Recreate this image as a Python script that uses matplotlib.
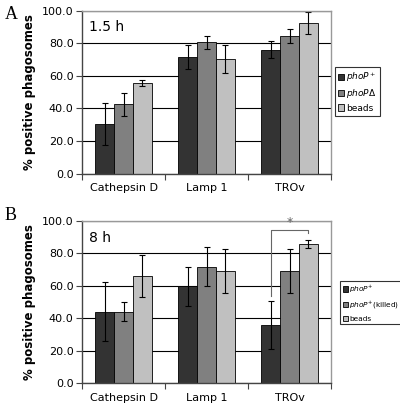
import numpy as np
import matplotlib.pyplot as plt

plt.rcParams['font.family'] = 'DejaVu Sans'
plt.rcParams['mathtext.fontset'] = 'custom'
plt.rcParams['mathtext.rm'] = 'DejaVu Sans'
plt.rcParams['mathtext.it'] = 'DejaVu Sans:italic'

categories = ["Cathepsin D", "Lamp 1", "TROv"]

# panel A, 1.5 h
a_labels = [r"$\mathit{phoP}^{+}$", r"$\mathit{phoP\Delta}$", "beads"]
a_vals = [[30.5, 71.5, 76.0], [42.5, 80.5, 84.5], [55.5, 70.5, 92.3]]
a_err = [[13.0, 7.3, 5.2], [7.0, 3.8, 4.2], [1.8, 8.5, 6.8]]

# panel B, 8 h
b_labels = [r"$\mathit{phoP}^{+}$", r"$\mathit{phoP}^{+}$(killed)", "beads"]
b_vals = [[44.0, 59.7, 35.8], [44.0, 71.8, 69.3], [66.0, 69.1, 85.7]]
b_err = [[18.3, 12.2, 14.6], [6.0, 12.2, 13.5], [13.0, 13.5, 2.6]]

colors = ["#333333", "#808080", "#c0c0c0"]
width = 0.225

fig = plt.figure(figsize=(4.0, 4.07), dpi=100)
axA = fig.add_axes([0.205, 0.5735, 0.6225, 0.4005])
axB = fig.add_axes([0.205, 0.059, 0.6225, 0.398])


def draw(ax, vals, errs, labels, tag, leg_pos, leg_fs, leg_sp):
    x = np.arange(len(categories))
    ax.set_axisbelow(True)
    handles = []
    for i in range(3):
        b = ax.bar(x + (i - 1) * width, vals[i], width, yerr=errs[i],
                   color=colors[i], edgecolor="black", linewidth=0.6,
                   error_kw=dict(ecolor="black", elinewidth=0.8, capsize=2.5, capthick=0.8),
                   label=labels[i], zorder=2)
        handles.append(b)
    ax.set_xlim(-0.5, 2.5)
    ax.set_ylim(0, 100)
    ax.set_yticks(np.arange(0, 101, 20))
    ax.set_yticklabels(["%.1f" % v for v in np.arange(0, 101, 20)], fontsize=8)
    ax.yaxis.grid(True, color="black", linewidth=0.8)
    ax.set_xticks(x)
    ax.set_xticklabels(categories, fontsize=8)
    ax.set_xticks([-0.5, 0.5, 1.5, 2.5], minor=True)
    ax.tick_params(axis="x", which="major", length=0, pad=7)
    ax.tick_params(axis="x", which="minor", length=4, width=0.8, color="#444444")
    ax.tick_params(axis="y", length=4, width=0.8, color="#444444", pad=2)
    for s in ["left", "bottom"]:
        ax.spines[s].set_color("#444444")
        ax.spines[s].set_linewidth(1.0)
    for s in ["top", "right"]:
        ax.spines[s].set_color("#999999")
        ax.spines[s].set_linewidth(1.0)
    ax.set_ylabel("% positive phagosomes", fontsize=8.5, fontweight="bold", labelpad=4)
    ax.text(0.03, 0.94, tag, transform=ax.transAxes, fontsize=10, va="top", ha="left")
    leg = fig.legend(handles=handles, loc="center left", bbox_to_anchor=leg_pos,
                     fontsize=leg_fs, frameon=True, fancybox=False, edgecolor="black",
                     handlelength=0.7, handleheight=0.7, handletextpad=0.2,
                     borderpad=0.35, labelspacing=leg_sp, borderaxespad=0)
    leg.get_frame().set_linewidth(0.8)


draw(axA, a_vals, a_err, a_labels, "1.5 h", (335 / 400, 1 - 91.5 / 407), 6.5, 0.35)
draw(axB, b_vals, b_err, b_labels, "8 h", (340 / 400, 1 - 302.5 / 407), 5.3, 0.65)

# significance bracket, TROv phoP+ vs beads
xl, xr = 2 - width, 2 + width
axB.plot([xl, xl, xr, xr], [54, 94.3, 94.3, 92.5], color="#666666", linewidth=0.8, zorder=3)
axB.text(2.0, 94.8, "*", ha="center", va="bottom", fontsize=9, color="#666666")

fig.text(0.012, 0.965, "A", fontsize=13, family="Liberation Serif", va="center")
fig.text(0.012, 0.47, "B", fontsize=13, family="Liberation Serif", va="center")

fig.savefig("out.png", dpi=100)
